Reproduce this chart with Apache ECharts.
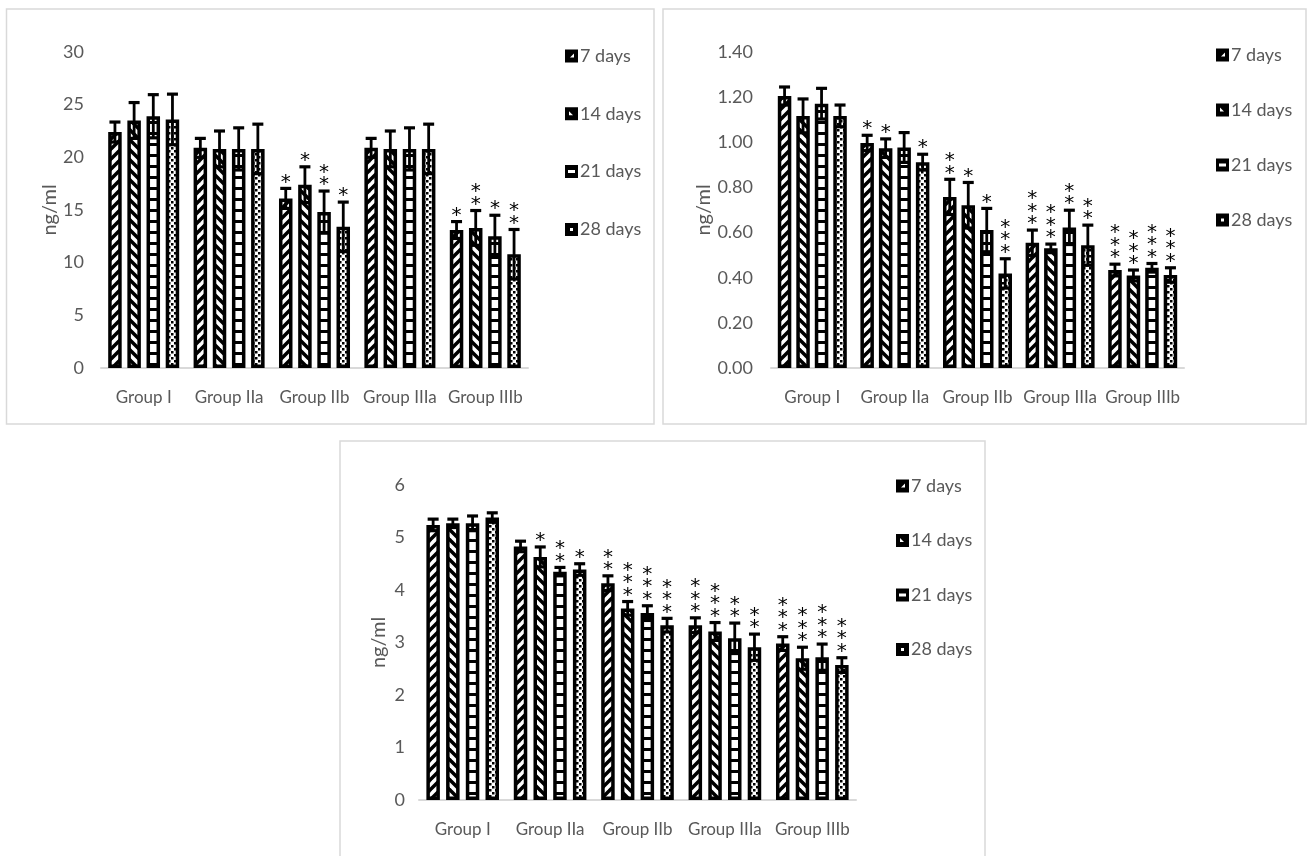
<!DOCTYPE html>
<html><head><meta charset="utf-8">
<script src="https://cdn.jsdelivr.net/npm/echarts@6/dist/echarts.min.js"></script>
<style>html,body{margin:0;padding:0;background:#fff}#c{width:1307px;height:856px}</style>
</head><body><div id="c"></div>
<script>
// ---------- DATA ----------
const categories = ['Group I', 'Group IIa', 'Group IIb', 'Group IIIa', 'Group IIIb'];
const seriesNames = ['7 days', '14 days', '21 days', '28 days'];

// Panel A (top-left)
const ticksA = [0, 5, 10, 15, 20, 25, 30];
const A7 = [22.4, 20.9, 16.1, 20.9, 13.1];
const A14 = [23.5, 20.8, 17.4, 20.8, 13.3];
const A21 = [23.9, 20.8, 14.8, 20.8, 12.5];
const A28 = [23.6, 20.8, 13.4, 20.8, 10.8];
const A7err = [0.95, 0.9, 0.95, 0.9, 0.8];
const A14err = [1.7, 1.7, 1.7, 1.7, 1.65];
const A21err = [2.05, 2.0, 2.0, 2.0, 2.0];
const A28err = [2.4, 2.35, 2.35, 2.35, 2.35];
const A7stars = [0, 0, 1, 0, 1];
const A14stars = [0, 0, 1, 0, 2];
const A21stars = [0, 0, 2, 0, 1];
const A28stars = [0, 0, 1, 0, 2];

// Panel B (top-right)
const ticksB = ['0.00', '0.20', '0.40', '0.60', '0.80', '1.00', '1.20', '1.40'];
const B7 = [1.205, 0.997, 0.758, 0.555, 0.434];
const B14 = [1.117, 0.974, 0.721, 0.530, 0.410];
const B21 = [1.171, 0.977, 0.611, 0.623, 0.444];
const B28 = [1.117, 0.912, 0.419, 0.544, 0.412];
const B7err = [0.040, 0.034, 0.078, 0.056, 0.026];
const B14err = [0.075, 0.041, 0.101, 0.019, 0.024];
const B21err = [0.068, 0.066, 0.096, 0.076, 0.019];
const B28err = [0.048, 0.035, 0.065, 0.089, 0.032];
const B7stars = [0, 1, 2, 3, 3];
const B14stars = [0, 1, 1, 3, 3];
const B21stars = [0, 0, 1, 2, 3];
const B28stars = [0, 1, 3, 2, 3];

// Panel C (bottom)
const ticksC = [0, 1, 2, 3, 4, 5, 6];
const C7 = [5.24, 4.83, 4.13, 3.33, 2.98];
const C14 = [5.27, 4.63, 3.65, 3.21, 2.70];
const C21 = [5.27, 4.35, 3.56, 3.08, 2.72];
const C28 = [5.38, 4.39, 3.33, 2.91, 2.57];
const C7err = [0.11, 0.10, 0.14, 0.14, 0.13];
const C14err = [0.08, 0.19, 0.13, 0.17, 0.21];
const C21err = [0.14, 0.08, 0.14, 0.29, 0.25];
const C28err = [0.09, 0.11, 0.13, 0.25, 0.14];
const C7stars = [0, 0, 2, 3, 3];
const C14stars = [0, 1, 3, 3, 3];
const C21stars = [0, 2, 3, 2, 3];
const C28stars = [0, 1, 3, 2, 3];

const yName = 'ng/ml';

// ---------- STYLE ----------
const FONT = 'Lato';
const GREY = '#595959';
const BAR_W = 13.5;

function pattern(kind) {
  const c = document.createElement('canvas');
  const ctx = c.getContext('2d');
  if (kind === 0 || kind === 1) {
    const s = 10;
    c.width = s; c.height = s;
    ctx.fillStyle = '#fff'; ctx.fillRect(0, 0, s, s);
    ctx.strokeStyle = '#000'; ctx.lineWidth = 3.5;
    [-s, 0, s].forEach(x0 => {
      ctx.beginPath();
      if (kind === 0) { ctx.moveTo(x0 - 1, s + 1); ctx.lineTo(x0 + s + 1, -1); }
      else { ctx.moveTo(x0 - 1, -1); ctx.lineTo(x0 + s + 1, s + 1); }
      ctx.stroke();
    });
  } else if (kind === 2) {
    c.width = 10; c.height = 11;
    ctx.fillStyle = '#fff'; ctx.fillRect(0, 0, 10, 11);
    ctx.fillStyle = '#000'; ctx.fillRect(0, 0, 10, 3);
  } else {
    c.width = 6; c.height = 6;
    ctx.fillStyle = '#fff'; ctx.fillRect(0, 0, 6, 6);
    ctx.fillStyle = '#000';
    ctx.fillRect(0, 0, 2.5, 2.5); ctx.fillRect(3, 3, 2.5, 2.5);
  }
  return { image: c, repeat: 'repeat' };
}
const patterns = [0, 1, 2, 3].map(pattern);

// legend icons: black square with a small white mark (hole via reversed winding)
const legendIcons = [
  'path://M0,0H13V13H0Z M5,8L9,8L9,4Z',
  'path://M0,0H13V13H0Z M4,4L4,8L8,8Z',
  'path://M0,0H13V13H0Z M3,5L3,8L10,8L10,5Z',
  'path://M0,0H13V13H0Z M5,5L5,8L8,8L8,5Z'
];

const panels = [
  { vals: [A7, A14, A21, A28], errs: [A7err, A14err, A21err, A28err], stars: [A7stars, A14stars, A21stars, A28stars],
    ticks: ticksA, labels: ticksA.map(String),
    grid: { left: 101, top: 52, width: 427, height: 316 }, gap: 0.42, nameGap: 40, labelMargin: 17,
    legend: { left: 560, top: 42, itemGap: 39.8 } },
  { vals: [B7, B14, B21, B28], errs: [B7err, B14err, B21err, B28err], stars: [B7stars, B14stars, B21stars, B28stars],
    ticks: ticksB.map(Number), labels: ticksB,
    grid: { left: 771, top: 52, width: 413, height: 316 }, gap: 0.37, nameGap: 55, labelMargin: 18,
    legend: { left: 1211, top: 41, itemGap: 37 } },
  { vals: [C7, C14, C21, C28], errs: [C7err, C14err, C21err, C28err], stars: [C7stars, C14stars, C21stars, C28stars],
    ticks: ticksC, labels: ticksC.map(String),
    grid: { left: 419, top: 485, width: 437, height: 315 }, gap: 0.46, nameGap: 30, labelMargin: 14,
    legend: { left: 891, top: 472, itemGap: 36.5 } }
];

const grids = [], xAxes = [], yAxes = [], series = [], legends = [];

panels.forEach((p, gi) => {
  grids.push(p.grid);
  const step = p.ticks[1] - p.ticks[0];
  xAxes.push({
    type: 'category', gridIndex: gi, data: categories,
    axisLine: { lineStyle: { color: '#d9d9d9', width: 2 } },
    axisTick: { show: false },
    axisLabel: { color: GREY, fontFamily: FONT, fontSize: 17, margin: 21, interval: 0 }
  });
  yAxes.push({
    type: 'value', gridIndex: gi, min: p.ticks[0], max: p.ticks[p.ticks.length - 1], interval: step,
    name: yName, nameLocation: 'middle', nameGap: p.nameGap,
    nameTextStyle: { color: GREY, fontFamily: FONT, fontSize: 20 },
    axisLine: { show: false }, axisTick: { show: false }, splitLine: { show: false },
    axisLabel: {
      color: GREY, fontFamily: FONT, fontSize: 18, margin: p.labelMargin,
      formatter: v => { const i = p.ticks.findIndex(t => Math.abs(t - v) < 1e-9); return i >= 0 ? p.labels[i] : ''; }
    }
  });
  const pitch = BAR_W * (1 + p.gap);
  p.vals.forEach((vals, si) => {
    series.push({
      type: 'bar', name: seriesNames[si], xAxisIndex: gi, yAxisIndex: gi,
      data: vals, barWidth: BAR_W, barGap: (p.gap * 100) + '%',
      itemStyle: { color: patterns[si], borderColor: '#000', borderWidth: 3.5 },
      emphasis: { disabled: true }, silent: true
    });
  });
  p.vals.forEach((vals, si) => {
    const errs = p.errs[si], stars = p.stars[si];
    series.push({
      type: 'custom', name: 'err' + gi + '_' + si, xAxisIndex: gi, yAxisIndex: gi, z: 5, silent: true,
      data: vals.map((v, i) => [i, v, errs[i], stars[i]]),
      renderItem: function (params, api) {
        const ci = api.value(0), v = api.value(1), e = api.value(2), n = api.value(3);
        const off = (si - 1.5) * pitch;
        const top = api.coord([ci, v + e]);
        const bot = api.coord([ci, v - e]);
        const x = top[0] + off;
        const children = [
          { type: 'line', shape: { x1: x, y1: top[1], x2: x, y2: bot[1] }, style: { stroke: '#000', lineWidth: 2.8 } },
          { type: 'line', shape: { x1: x - 5.5, y1: top[1], x2: x + 5.5, y2: top[1] }, style: { stroke: '#000', lineWidth: 3.2 } },
          { type: 'line', shape: { x1: x - 5.5, y1: bot[1], x2: x + 5.5, y2: bot[1] }, style: { stroke: '#000', lineWidth: 3.2 } }
        ];
        for (let k = 0; k < n; k++) {
          children.push({
            type: 'text',
            style: { text: '*', x: x, y: top[1] - 11 - 12.5 * k + 5, align: 'center', verticalAlign: 'middle',
                     fill: '#000', fontSize: 20, fontFamily: 'DejaVu Sans' }
          });
        }
        return { type: 'group', children: children };
      }
    });
  });
  legends.push({
    data: seriesNames.map((n, i) => ({ name: n, icon: legendIcons[i] })),
    orient: 'vertical', left: p.legend.left, top: p.legend.top,
    itemGap: p.legend.itemGap, itemWidth: 13, itemHeight: 13,
    itemStyle: { color: '#000', borderWidth: 0 },
    textStyle: { color: GREY, fontFamily: FONT, fontSize: 18, lineHeight: 18, padding: [0, 0, 0, -3] },
    selectedMode: false
  });
});

const chart = echarts.init(document.getElementById('c'), null, { renderer: 'canvas' });
chart.setOption({
  backgroundColor: '#fff',
  animation: false,
  grid: grids, xAxis: xAxes, yAxis: yAxes, series: series, legend: legends,
  graphic: [
    { type: 'rect', shape: { x: 6.5, y: 9, width: 647.5, height: 415 }, style: { fill: 'none', stroke: '#d9d9d9', lineWidth: 1.5 }, silent: true },
    { type: 'rect', shape: { x: 663, y: 9, width: 643, height: 415 }, style: { fill: 'none', stroke: '#d9d9d9', lineWidth: 1.5 }, silent: true },
    { type: 'rect', shape: { x: 340, y: 441, width: 645, height: 420 }, style: { fill: 'none', stroke: '#d9d9d9', lineWidth: 1.5 }, silent: true }
  ]
});
</script>
</body></html>
